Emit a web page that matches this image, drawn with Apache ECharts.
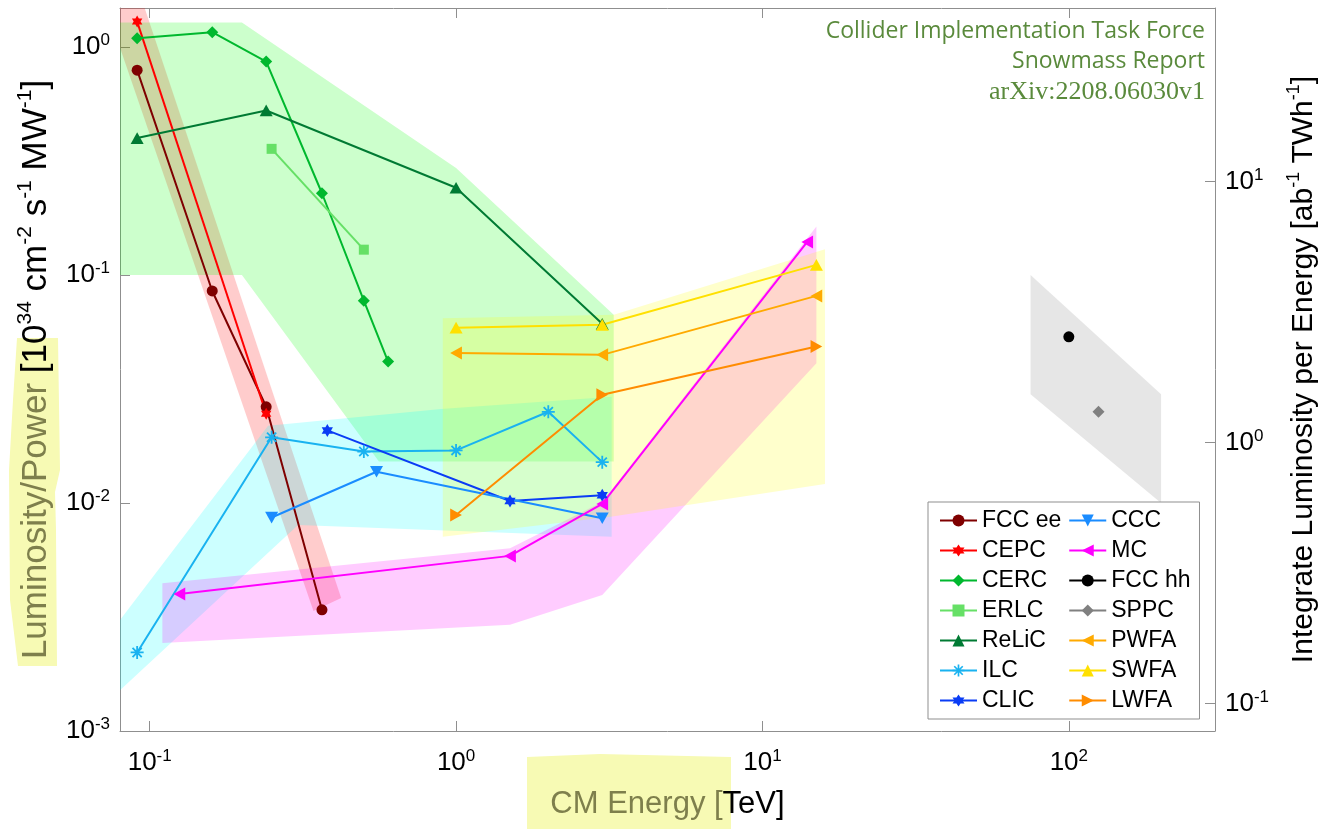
<!DOCTYPE html>
<html><head><meta charset="utf-8">
<script src="https://cdn.jsdelivr.net/npm/echarts@6/dist/echarts.min.js"></script>
<style>html,body{margin:0;padding:0;background:#fff}#c{width:1328px;height:829px}</style>
</head><body><div id="c"></div>
<script>
// ---------------- data (CM energy in TeV, luminosity/power) ----------------
const seriesNames = ['FCC ee','CEPC','CERC','ERLC','ReLiC','ILC','CLIC','CCC','MC','FCC hh','SPPC','PWFA','SWFA','LWFA'];

const fccEe_E = [0.091, 0.16, 0.24, 0.365];
const fccEe_L = [0.79, 0.085, 0.0264, 0.0034];
const cepc_E  = [0.091, 0.24];
const cepc_L  = [1.29, 0.0246];
const cerc_E  = [0.091, 0.16, 0.24, 0.365, 0.5, 0.6];
const cerc_L  = [1.09, 1.16, 0.862, 0.228, 0.0771, 0.0417];
const erlc_E  = [0.25, 0.5];
const erlc_L  = [0.357, 0.129];
const relic_E = [0.091, 0.24, 1.0, 3.0];
const relic_L = [0.398, 0.526, 0.241, 0.061];
const ilc_E   = [0.091, 0.25, 0.5, 1.0, 2.0, 3.0];
const ilc_L   = [0.00221, 0.0194, 0.0168, 0.0170, 0.0251, 0.0151];
const clic_E  = [0.38, 1.5, 3.0];
const clic_L  = [0.0208, 0.0102, 0.0108];
const ccc_E   = [0.25, 0.55, 3.0];
const ccc_L   = [0.00863, 0.0137, 0.00857];
const mc_E    = [0.125, 1.5, 3.0, 14];
const mc_L    = [0.00399, 0.00586, 0.0099, 0.1395];
const fcchh_E = [100];
const fcchh_L = [0.0535];
const sppc_E  = [125];
const sppc_L  = [0.0251];
const pwfa_E  = [1.0, 3.0, 15];
const pwfa_L  = [0.0454, 0.0446, 0.0809];
const swfa_E  = [1.0, 3.0, 15];
const swfa_L  = [0.0587, 0.0604, 0.1106];
const lwfa_E  = [1.0, 3.0, 15];
const lwfa_L  = [0.00886, 0.0298, 0.0485];

// shaded regions: polygon vertices [energy, lumi/power]
const bandEE      = [[0.08,1.48],[0.0963,1.48],[0.4217,0.00383],[0.3424,0.00336],[0.08,0.99]];
const bandCircHi  = [[0.08,1.28],[0.2,1.28],[1.0,0.294],[3.27,0.0668],[3.27,0.0152],[0.56,0.0152],[0.2,0.1],[0.08,0.1]];
const bandLinear  = [[0.08,0.00307],[0.2435,0.0218],[0.893,0.0258],[3.22,0.0292],[3.22,0.0071],[0.305,0.0080],[0.08,0.00151]];
const bandMuon    = [[0.11,0.00444],[1.5,0.00633],[3.0,0.0101],[15,0.163],[15,0.041],[3.0,0.00395],[1.5,0.00292],[0.11,0.00243]];
const bandWFA     = [[0.905,0.0646],[3.27,0.0668],[16,0.1296],[16,0.0121],[3.2,0.0087],[0.905,0.00711]];
const bandHadron  = [[75,0.1],[200,0.03],[200,0.01],[75,0.03]];

const annotLines = ['Collider Implementation Task Force', 'Snowmass Report', 'arXiv:2208.06030v1'];

// ---------------- styling ----------------
const axisGray = '#8f8f8f';
const FONT = 'Liberation Sans';

function polyPath(pts){
  return 'path://' + pts.map((p,i)=>(i?'L':'M')+p[0].toFixed(3)+','+p[1].toFixed(3)).join(' ') + ' Z';
}
function hexagram(){
  const pts=[];
  for(let k=0;k<12;k++){const a=-Math.PI/2+k*Math.PI/6; const r=k%2?0.5774:1; pts.push([Math.cos(a)*r, Math.sin(a)*r]);}
  return polyPath(pts);
}
function asterisk(){
  let d='path://'; const t=0.14;
  [0,45,90,135].forEach(deg=>{
    const a=deg*Math.PI/180,c=Math.cos(a),s=Math.sin(a),nx=-s*t,ny=c*t;
    const p=[[c+nx,s+ny],[c-nx,s-ny],[-c-nx,-s-ny],[-c+nx,-s+ny]];
    d+='M'+p.map(q=>q[0].toFixed(3)+','+q[1].toFixed(3)).join(' L')+' Z ';
  });
  return d;
}
const triUp    = 'path://M1,0 L2,1.8 L0,1.8 Z';
const triDown  = 'path://M0,0 L2,0 L1,1.8 Z';
const triLeft  = 'path://M0,1 L1.8,0 L1.8,2 Z';
const triRight = 'path://M1.8,1 L0,0 L0,2 Z';
const HEX = hexagram(), AST = asterisk();

function mk(name, xs, ys, color, symbol, size){
  return {
    name, type:'line', data: xs.map((x,i)=>[x, ys[i]]),
    lineStyle:{color, width:2}, itemStyle:{color},
    symbol, symbolSize:size, symbolKeepAspect:true, showSymbol:true,
    z:3, silent:true, emphasis:{disabled:true}
  };
}

const lines = [
  mk('FCC ee', fccEe_E, fccEe_L, '#7f0000', 'circle', 11),
  mk('CEPC',   cepc_E,  cepc_L,  '#ff0000', HEX, 12),
  mk('CERC',   cerc_E,  cerc_L,  '#00b82e', 'diamond', 12),
  mk('ERLC',   erlc_E,  erlc_L,  '#66e066', 'rect', 10),
  mk('ReLiC',  relic_E, relic_L, '#007a33', triUp, 13),
  mk('ILC',    ilc_E,   ilc_L,   '#19b2f0', AST, 13),
  mk('CLIC',   clic_E,  clic_L,  '#0a3cf5', HEX, 13),
  mk('CCC',    ccc_E,   ccc_L,   '#1a8cff', triDown, 13),
  mk('MC',     mc_E,    mc_L,    '#ff00ff', triLeft, 13),
  mk('FCC hh', fcchh_E, fcchh_L, '#000000', 'circle', 11),
  mk('SPPC',   sppc_E,  sppc_L,  '#808080', 'diamond', 12),
  mk('PWFA',   pwfa_E,  pwfa_L,  '#ffaa00', triLeft, 13),
  mk('SWFA',   swfa_E,  swfa_L,  '#ffe000', triUp, 13),
  mk('LWFA',   lwfa_E,  lwfa_L,  '#ff8c00', triRight, 13)
];

const bands = [
  {pts: bandEE,     fill:'rgba(255,0,0,0.2)'},
  {pts: bandCircHi, fill:'rgba(0,255,0,0.2)'},
  {pts: bandLinear, fill:'rgba(0,255,255,0.2)'},
  {pts: bandMuon,   fill:'rgba(255,0,255,0.2)'},
  {pts: bandWFA,    fill:'rgba(255,255,0,0.2)'},
  {pts: bandHadron, fill:'rgba(128,128,128,0.2)'}
];

const bandSeries = {
  type:'custom', xAxisIndex:0, yAxisIndex:0, clip:true, silent:true, z:1,
  data: bands.map(b=>({value: b.pts[0]})),
  renderItem: (params, api) => {
    const b = bands[params.dataIndex];
    return {type:'polygon', shape:{points: b.pts.map(p=>api.coord(p))}, style:{fill:b.fill}};
  }
};

function powLabel(v){
  const e = Math.log10(v), r = Math.round(e);
  if (Math.abs(e-r) > 0.01) return '';
  return '{b|10}{s|' + r + '}';
}
const tickRich = {
  b:{fontSize:26, fontFamily:FONT, color:'#000', lineHeight:30},
  s:{fontSize:17, fontFamily:FONT, color:'#000', verticalAlign:'top', lineHeight:17}
};
const olive = '#7e7f4c';
const nameRich = (fs, ss) => ({
  o:{fontSize:fs, fontFamily:FONT, color:olive, lineHeight:fs+8},
  b:{fontSize:fs, fontFamily:FONT, color:'#000', lineHeight:fs+8},
  s:{fontSize:ss, fontFamily:FONT, color:'#000', verticalAlign:'top', lineHeight:ss}
});

const commonLog = {
  type:'log', logBase:10,
  splitLine:{show:false}, minorTick:{show:false}, minorSplitLine:{show:false},
  axisLine:{show:true, lineStyle:{color:axisGray, width:1}},
  axisTick:{show:true, inside:true, length:10, lineStyle:{color:axisGray, width:1}}
};

const hl = '#f7fab4';
const option = {
  animation:false,
  backgroundColor:'#fff',
  grid:{left:120, top:8, right:113, bottom:98, outerBoundsMode:'none', containLabel:false},
  xAxis:[
    Object.assign({}, commonLog, {
      position:'bottom', min:0.08, max:300,
      axisLabel:{formatter:powLabel, rich:tickRich, margin:17},
      name:'{o|CM Energy [}{b|TeV]}', nameLocation:'middle', nameGap:54,
      nameTextStyle:{rich:nameRich(31,18)}
    }),
    Object.assign({}, commonLog, {
      position:'top', min:0.08, max:300, axisLabel:{show:false}
    })
  ],
  yAxis:[
    Object.assign({}, commonLog, {
      position:'left', min:0.001, max:1.48,
      axisLabel:{formatter:powLabel, rich:tickRich, margin:10},
      name:'{o|Luminosity/Power}{b| [10}{s|34}{b| cm}{s|-2}{b| s}{s|-1}{b| MW}{s|-1}{b|]}',
      nameLocation:'middle', nameGap:62, nameRotate:90,
      nameTextStyle:{rich:nameRich(35,21)}
    }),
    Object.assign({}, commonLog, {
      position:'right', min:0.0786, max:46.3,
      axisLabel:{formatter:powLabel, rich:tickRich, margin:10},
      name:'{b|Integrate Luminosity per Energy [ab}{s|-1}{b| TWh}{s|-1}{b|]}',
      nameLocation:'middle', nameGap:70, nameRotate:90,
      nameTextStyle:{rich:nameRich(30,18)}
    })
  ],
  legend:{
    orient:'vertical', left:928, top:502, height:206,
    itemGap:7, itemWidth:37, itemHeight:15,
    padding:[7,9,7,11], borderColor:axisGray, borderWidth:1, backgroundColor:'#fff',
    textStyle:{fontSize:23, color:'#000', fontFamily:FONT},
    selectedMode:false,
    data: seriesNames.map((n,i)=> i<7 ? {name:n, textStyle:{width:98}} : {name:n})
  },
  graphic:[
    {type:'polygon', z:-10, silent:true,
      shape:{points:[[17,338],[58,338],[60,470],[55,492],[56,530],[57,666],[18,666],[10,600],[9,470],[13,400]]},
      style:{fill:hl}},
    {type:'polygon', z:-10, silent:true,
      shape:{points:[[527,757],[600,754],[731,757],[731,829],[527,829]]},
      style:{fill:hl}},
    {type:'text', x:1205, y:31, z:10, silent:true,
      style:{text:annotLines[0], fill:'#5a8a3c', font:'23px "Open Sans"', align:'right', verticalAlign:'middle', textAlign:'right', textVerticalAlign:'middle'}},
    {type:'text', x:1205, y:61, z:10, silent:true,
      style:{text:annotLines[1], fill:'#5a8a3c', font:'23px "Open Sans"', align:'right', verticalAlign:'middle', textAlign:'right', textVerticalAlign:'middle'}},
    {type:'text', x:1205, y:92, z:10, silent:true,
      style:{text:annotLines[2], fill:'#5a8a3c', font:'26px "Liberation Serif"', align:'right', verticalAlign:'middle', textAlign:'right', textVerticalAlign:'middle'}}
  ],
  series:[bandSeries].concat(lines)
};

const chart = echarts.init(document.getElementById('c'), null, {renderer:'canvas'});
chart.setOption(option);
</script>
</body></html>
